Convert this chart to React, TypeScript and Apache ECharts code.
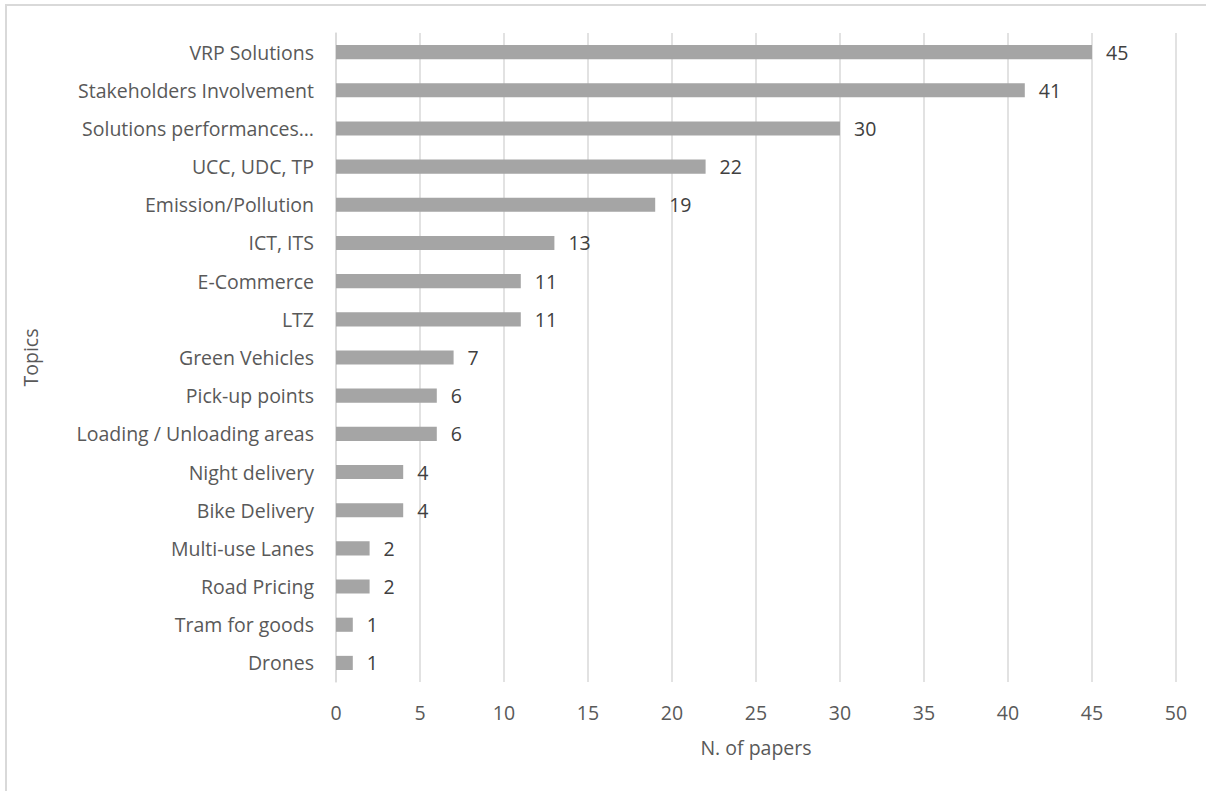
import React, { useEffect, useRef } from "react";
import * as echarts from "echarts";

const topics = [
  "VRP Solutions",
  "Stakeholders Involvement",
  "Solutions performances…",
  "UCC, UDC, TP",
  "Emission/Pollution",
  "ICT, ITS",
  "E-Commerce",
  "LTZ",
  "Green Vehicles",
  "Pick-up points",
  "Loading / Unloading areas",
  "Night delivery",
  "Bike Delivery",
  "Multi-use Lanes",
  "Road Pricing",
  "Tram for goods",
  "Drones",
];
const papers = [45, 41, 30, 22, 19, 13, 11, 11, 7, 6, 6, 4, 4, 2, 2, 1, 1];

const FONT = "'Open Sans', 'Noto Sans', sans-serif";
const TEXT = "#595959";
const FS = 19.5;

export default function App() {
  const ref = useRef<HTMLDivElement>(null);
  useEffect(() => {
    if (!ref.current) return;
    const chart = echarts.init(ref.current, null, { renderer: "svg" });
    chart.setOption({
      animation: false,
      backgroundColor: "#ffffff",
      textStyle: { fontFamily: FONT },
      graphic: [
        {
          type: "rect",
          shape: { x: 6, y: 5, width: 1260, height: 900 },
          style: { fill: "none", stroke: "#d9d9d9", lineWidth: 2 },
          silent: true,
        },
      ],
      grid: { left: 336, right: 30, top: 33, bottom: 109, containLabel: false },
      xAxis: {
        type: "value",
        min: 0,
        max: 50,
        interval: 5,
        name: "N. of papers",
        nameLocation: "middle",
        nameGap: 55,
        nameTextStyle: { color: TEXT, fontSize: FS, fontFamily: FONT },
        axisLine: { show: false },
        axisTick: { show: false },
        axisLabel: { color: TEXT, fontSize: FS, margin: 20, fontFamily: FONT },
        splitLine: { show: true, lineStyle: { color: "#d9d9d9", width: 1.5 } },
      },
      yAxis: {
        type: "category",
        data: topics,
        inverse: true,
        name: "Topics",
        nameLocation: "middle",
        nameGap: 296,
        nameRotate: 90,
        nameTextStyle: { color: TEXT, fontSize: FS, fontFamily: FONT },
        axisLine: { show: true, lineStyle: { color: "#d9d9d9", width: 1.5 } },
        axisTick: { show: false },
        axisLabel: { color: TEXT, fontSize: FS, margin: 22, fontFamily: FONT },
      },
      series: [
        {
          type: "bar",
          data: papers,
          barWidth: "37%",
          itemStyle: { color: "#a5a5a5" },
          label: {
            show: true,
            position: "right",
            distance: 14,
            color: "#404040",
            fontSize: FS,
            fontFamily: FONT,
          },
        },
      ],
    });
    return () => chart.dispose();
  }, []);
  return (
    <div
      ref={ref}
      style={{ position: "fixed", left: 0, top: 0, width: 1206, height: 791 }}
    />
  );
}
